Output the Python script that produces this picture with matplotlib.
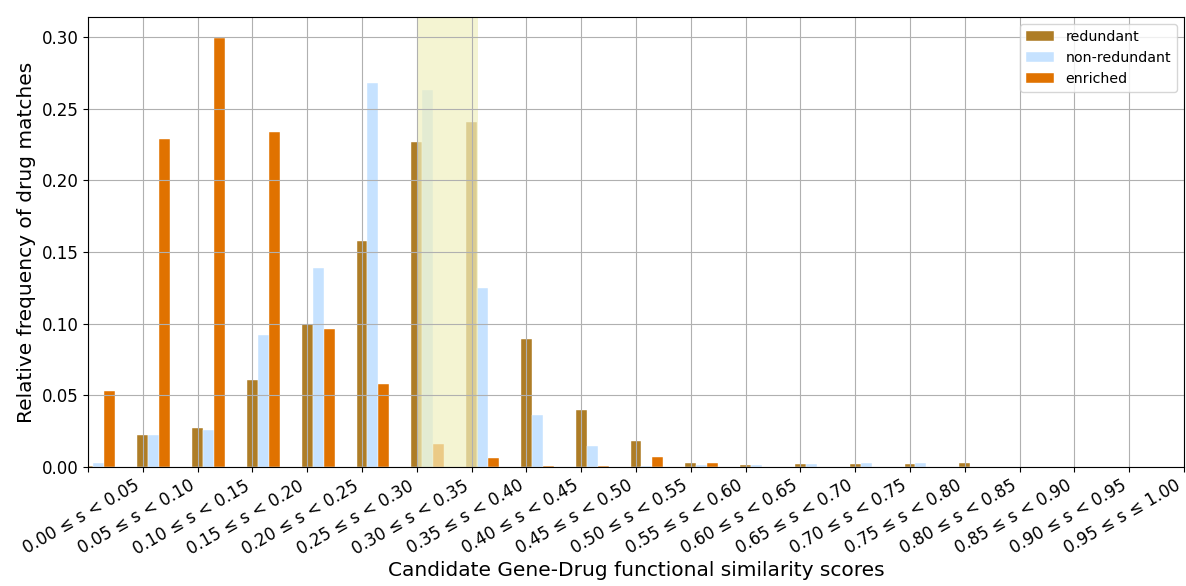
import matplotlib
matplotlib.use("Agg")
import matplotlib.pyplot as plt
import numpy as np

categories = ["0.00 ≤ s < 0.05", "0.05 ≤ s < 0.10", "0.10 ≤ s < 0.15", "0.15 ≤ s < 0.20",
              "0.20 ≤ s < 0.25", "0.25 ≤ s < 0.30", "0.30 ≤ s < 0.35", "0.35 ≤ s < 0.40",
              "0.40 ≤ s < 0.45", "0.45 ≤ s < 0.50", "0.50 ≤ s < 0.55", "0.55 ≤ s < 0.60",
              "0.60 ≤ s < 0.65", "0.65 ≤ s < 0.70", "0.70 ≤ s < 0.75", "0.75 ≤ s < 0.80",
              "0.80 ≤ s < 0.85", "0.85 ≤ s < 0.90", "0.90 ≤ s < 0.95", "0.95 ≤ s ≤ 1.00"]

redundant = [0.001, 0.022, 0.027, 0.061, 0.100, 0.158, 0.227, 0.241, 0.089, 0.040,
             0.018, 0.0026, 0.0012, 0.0019, 0.0019, 0.0019, 0.0026, 0.0, 0.0, 0.0]
non_redundant = [0.003, 0.022, 0.026, 0.092, 0.139, 0.268, 0.263, 0.125, 0.036, 0.015,
                 0.001, 0.0012, 0.0012, 0.0019, 0.0026, 0.0026, 0.0, 0.0, 0.0, 0.0]
enriched = [0.053, 0.229, 0.299, 0.234, 0.096, 0.058, 0.016, 0.006, 0.001, 0.001,
            0.007, 0.0026, 0.0, 0.0, 0.0, 0.0, 0.0, 0.0, 0.0, 0.0]

fig = plt.figure(figsize=(11.86, 5.86), dpi=100)
ax = fig.add_axes([88/1186, 1-467/586, (1184-88)/1186, (467-17)/586])

x = np.arange(len(categories))
w = 0.2
ax.bar(x, redundant, width=w, color="#ae7d26", label="redundant", edgecolor="white", linewidth=0.3)
ax.bar(x + w, non_redundant, width=w, color="#c6e2ff", label="non-redundant", edgecolor="white", linewidth=0.3)
ax.bar(x + 2*w, enriched, width=w, color="#e07200", label="enriched", edgecolor="white", linewidth=0.3)

ax.axvspan(6.0, 7.12, color="#f0f0c0", alpha=0.7, linewidth=0)

ax.set_xlim(0, 20)
ax.set_xticks(np.arange(0, 21))
ax.set_xticklabels([""] + categories, rotation=30, ha="right", fontsize=12)
ax.tick_params(axis="y", labelsize=12)
ax.set_yticks([0.0, 0.05, 0.10, 0.15, 0.20, 0.25, 0.30])
ax.set_ylim(0, 0.314)
ax.grid(True)
ax.set_xlabel("Candidate Gene-Drug functional similarity scores", fontsize=14.5, labelpad=2)
ax.set_ylabel("Relative frequency of drug matches", fontsize=14.5)
ax.legend(loc="upper right", fontsize=10.2)

fig.savefig("out.png", dpi=100)
